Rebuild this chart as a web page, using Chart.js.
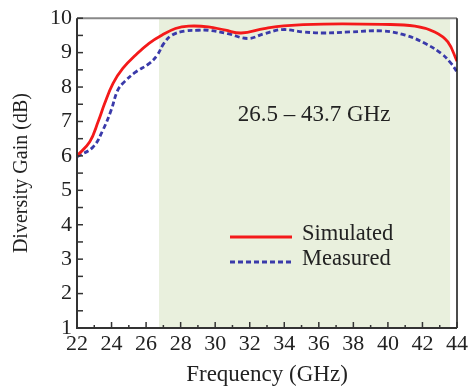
<!DOCTYPE html>
<html>
<head>
<meta charset="utf-8">
<script src="https://cdn.jsdelivr.net/npm/chart.js@4/dist/chart.umd.min.js"></script>
<style>
html,body{margin:0;padding:0;background:#fff;}
#wrap{width:471px;height:389px;position:relative;}
</style>
</head>
<body>
<div id="wrap"><canvas id="c" width="471" height="389"></canvas></div>
<script>
// Data
const simFreq = [22.0, 22.74, 23.22, 23.6, 24.08, 24.65, 25.4, 26.17, 26.93, 27.7, 28.46, 29.6, 30.6, 31.5, 32.84, 33.97, 36.27, 39.67, 41.57, 42.71, 43.47, 44.0];
const simGain = [6.0, 6.41, 6.99, 7.52, 8.10, 8.54, 8.93, 9.27, 9.51, 9.70, 9.77, 9.75, 9.65, 9.57, 9.70, 9.78, 9.83, 9.82, 9.77, 9.60, 9.31, 8.75];
const measFreq = [22.0, 22.93, 23.5, 23.98, 24.36, 24.74, 25.41, 26.17, 26.65, 27.03, 27.5, 28.26, 29.03, 29.6, 30.74, 31.89, 32.84, 33.89, 35.1, 36.27, 37.8, 39.67, 41.0, 42.14, 43.1, 43.67, 44.0];
const measGain = [5.97, 6.26, 6.75, 7.33, 7.91, 8.15, 8.44, 8.68, 8.93, 9.27, 9.51, 9.63, 9.65, 9.65, 9.55, 9.41, 9.55, 9.67, 9.60, 9.57, 9.60, 9.63, 9.51, 9.27, 8.97, 8.68, 8.44];
const seriesNames = ["Simulated", "Measured"];
const bandStart = 26.75;
const bandEnd = 43.6;
const bandLabel = "26.5 \u2013 43.7 GHz";
const xTicks = [22,24,26,28,30,32,34,36,38,40,42,44];
const yTicks = [1,2,3,4,5,6,7,8,9,10];

const FONT = "'Liberation Serif', 'Times New Roman', serif";
const TXT = "#222";

const toPts = (xs, ys) => xs.map((x, i) => ({x: x, y: ys[i]}));

const decor = {
  id: 'decor',
  beforeDatasetsDraw(chart) {
    const {ctx, chartArea: a, scales: {x, y}} = chart;
    ctx.save();
    const x0 = x.getPixelForValue(bandStart), x1 = x.getPixelForValue(bandEnd);
    ctx.fillStyle = '#e9f0dd';
    ctx.fillRect(x0, a.top, x1 - x0, a.bottom - a.top);
    ctx.restore();
  },
  afterDatasetsDraw(chart) {
    const {ctx, chartArea: a, scales: {x, y}} = chart;
    ctx.save();
    // frame
    ctx.lineWidth = 2;
    ctx.strokeStyle = '#888';
    ctx.beginPath(); ctx.moveTo(a.left, a.top); ctx.lineTo(a.right, a.top); ctx.stroke();
    ctx.strokeStyle = '#111';
    ctx.lineWidth = 1.5;
    ctx.beginPath(); ctx.moveTo(a.right, a.top); ctx.lineTo(a.right, a.bottom); ctx.stroke();
    ctx.strokeStyle = '#333';
    ctx.lineWidth = 2;
    ctx.beginPath(); ctx.moveTo(a.left, a.top); ctx.lineTo(a.left, a.bottom); ctx.lineTo(a.right, a.bottom); ctx.stroke();
    // inward ticks
    ctx.lineWidth = 1.5;
    for (let v = 1; v <= 10.001; v += 0.5) {
      const py = y.getPixelForValue(v);
      ctx.beginPath(); ctx.moveTo(a.left, py); ctx.lineTo(a.left + 6, py); ctx.stroke();
    }
    for (let v = 22; v <= 44; v += 1) {
      const px = x.getPixelForValue(v);
      const len = (v % 2 === 0) ? 6 : 3;
      ctx.beginPath(); ctx.moveTo(px, a.bottom); ctx.lineTo(px, a.bottom - len); ctx.stroke();
    }
    // band annotation
    ctx.fillStyle = TXT;
    ctx.font = "23px " + FONT;
    ctx.textAlign = 'center';
    ctx.textBaseline = 'middle';
    ctx.fillText(bandLabel, 314, 115);
    // legend
    ctx.font = "22.5px " + FONT;
    const ds = chart.data.datasets;
    const rows = [237, 262];
    ds.forEach((d, i) => {
      ctx.strokeStyle = d.borderColor;
      ctx.lineWidth = d.borderWidth;
      ctx.setLineDash(d.borderDash || []);
      ctx.beginPath(); ctx.moveTo(230, rows[i]); ctx.lineTo(292, rows[i]); ctx.stroke();
      ctx.setLineDash([]);
      ctx.fillStyle = TXT;
      ctx.textAlign = 'left';
      ctx.fillText(d.label, 302, rows[i] - 3);
    });
    ctx.restore();
  }
};

new Chart(document.getElementById('c'), {
  type: 'line',
  data: {
    datasets: [
      {label: seriesNames[0], data: toPts(simFreq, simGain), borderColor: '#f41a1a', borderWidth: 2.8, pointRadius: 0, tension: 0.4, fill: false},
      {label: seriesNames[1], data: toPts(measFreq, measGain), borderColor: '#3a3aaa', borderWidth: 2.8, borderDash: [5, 3], pointRadius: 0, tension: 0.4, fill: false}
    ]
  },
  options: {
    responsive: false,
    animation: false,
    devicePixelRatio: 1,
    layout: {padding: {left: 0, top: 18, right: 9, bottom: 0}},
    plugins: {legend: {display: false}, tooltip: {enabled: false}},
    scales: {
      x: {
        type: 'linear', min: 22, max: 44,
        afterBuildTicks: s => { s.ticks = xTicks.map(v => ({value: v})); },
        afterFit: s => { s.height = 61; },
        grid: {display: false, drawTicks: false},
        border: {display: false},
        ticks: {color: TXT, font: {family: FONT, size: 22}, padding: 3, maxRotation: 0, autoSkip: false},
        title: {display: true, text: 'Frequency (GHz)', color: TXT, font: {family: FONT, size: 23}, padding: {top: 0, bottom: 0}}
      },
      y: {
        type: 'linear', min: 1, max: 10,
        afterBuildTicks: s => { s.ticks = yTicks.map(v => ({value: v})); },
        afterFit: s => { s.width = 77; },
        grid: {display: false, drawTicks: false},
        border: {display: false},
        ticks: {color: TXT, font: {family: FONT, size: 22}, padding: 5, autoSkip: false},
        title: {display: true, text: 'Diversity Gain (dB)', color: TXT, font: {family: FONT, size: 20}, padding: {top: 10, bottom: 0}}
      }
    }
  },
  plugins: [decor]
});
</script>
</body>
</html>
